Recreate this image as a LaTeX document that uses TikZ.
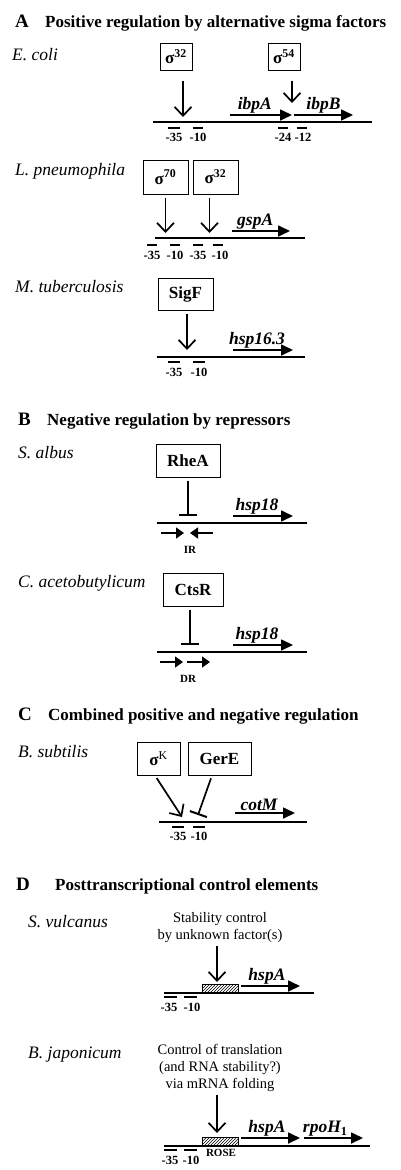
\documentclass[tikz,border=0pt]{standalone}
\usepackage{fontspec}
\setmainfont{Liberation Serif}
\usetikzlibrary{arrows.meta, patterns}

\begin{document}
\begin{tikzpicture}[x=1pt,y=-1pt,
    panel/.style={anchor=base west,inner sep=0pt,font=\bfseries\fontsize{19}{22}\selectfont},
    heading/.style={anchor=base west,inner sep=0pt,font=\bfseries\fontsize{17}{20}\selectfont},
    species/.style={anchor=base west,inner sep=0pt,font=\itshape\fontsize{17.5}{20}\selectfont},
    factor/.style={draw,line width=1pt,minimum height=33pt,inner sep=0pt,font=\bfseries\fontsize{17}{20}\selectfont},
    note/.style={align=center,inner sep=0pt,font=\fontsize{14.5}{17}\selectfont},
    dna/.style={line width=1.3pt},
    gene/.style={line width=1.7pt,-{Triangle[length=12pt,width=11pt]}},
    gname/.style={above,pos=0.4,inner sep=1pt,font=\bfseries\itshape\fontsize{17.5}{20}\selectfont},
    act/.style={line width=1.7pt,shorten <=3pt,-{Straight Barb[length=9pt,width=17pt,line width=1.7pt]}},
    rep/.style={line width=1.7pt,shorten <=3pt,-{Bar[width=18pt,line width=2pt]}},
    ir/.style={line width=1.4pt,-{Triangle[length=8pt,width=11pt]}},
    sitebar/.style={line width=1.3pt},
    site/.style={inner sep=0pt,font=\bfseries\fontsize{12.5}{14}\selectfont},
    small/.style={inner sep=0pt,font=\bfseries\fontsize{11}{13}\selectfont},
    rose/.style={draw,line width=1pt,pattern=north east lines},
]
\useasboundingbox (0,0) rectangle (400,1170);

% A: positive regulation
\node[panel] (pA) at (15,27) {A};
\node[heading] (hA) at (45,27) {Positive regulation by alternative sigma factors};

% E. coli
\node[species] (eco) at (12,60) {E. coli};
\node[factor,minimum width=32pt,minimum height=27pt] (eS32) at (176,56.5) {σ\textsuperscript{32}};
\node[factor,minimum width=32pt,minimum height=27pt] (eS54) at (284,56.5) {σ\textsuperscript{54}};
\coordinate (eL) at (153,122); \coordinate (eR) at (372,122);
\draw[dna] (eL) -- (eR);
\coordinate (eP1) at (183,117); \coordinate (eP2) at (292,103);
\draw[act,shorten <=10pt] ([xshift=7pt]eS32.south) -- (eP1);
\draw[act,shorten <=10pt] ([xshift=8pt]eS54.south) -- (eP2);
\coordinate (eA1) at (230,115); \coordinate (eA2) at (292,115);
\draw[gene] (eA1) -- node[gname] {ibpA} (eA2);
\coordinate (eB1) at (294,115); \coordinate (eB2) at (353,115);
\draw[gene] (eB1) -- node[gname,pos=0.5] {ibpB} (eB2);
\draw[sitebar] (168,128) -- (180,128);
\draw[sitebar] (193,128) -- (203,128);
\draw[sitebar] (278,128) -- (288,128);
\draw[sitebar] (297,128) -- (307,128);
\node[site] (e35) at (174,137) {-35};
\node[site] (e10) at (198,137) {-10};
\node[site] (e24) at (283,137) {-24};
\node[site] (e12) at (303,137) {-12};

% L. pneumophila
\node[species] (lpn) at (15,175) {L. pneumophila};
\node[factor,minimum width=45pt,minimum height=34pt] (lS70) at (165.5,177) {σ\textsuperscript{70}};
\node[factor,minimum width=45pt,minimum height=34pt] (lS32) at (215.5,177) {σ\textsuperscript{32}};
\coordinate (lL) at (155,238); \coordinate (lR) at (305,238);
\draw[dna] (lL) -- (lR);
\coordinate (lP1) at (165.5,233); \coordinate (lP2) at (209.5,233);
\draw[act] (lS70.south) -- (lP1);
\draw[act] ([xshift=-6pt]lS32.south) -- (lP2);
\coordinate (lA1) at (232,231); \coordinate (lA2) at (290,231);
\draw[gene] (lA1) -- node[gname] {gspA} (lA2);
\draw[sitebar] (147,245) -- (157,245);
\draw[sitebar] (170,245) -- (180,245);
\draw[sitebar] (193,245) -- (203,245);
\draw[sitebar] (213,245) -- (223,245);
\node[site] (l35a) at (152,255) {-35};
\node[site] (l10a) at (175,255) {-10};
\node[site] (l35b) at (198,255) {-35};
\node[site] (l10b) at (220,255) {-10};

% M. tuberculosis
\node[species] (mtb) at (15,292) {M. tuberculosis};
\node[factor,minimum width=55pt,minimum height=32pt] (mSigF) at (185.5,294) {SigF};
\coordinate (mL) at (157,357); \coordinate (mR) at (305,357);
\draw[dna] (mL) -- (mR);
\coordinate (mP) at (187,350);
\draw[act] ([xshift=1.5pt]mSigF.south) -- (mP);
\coordinate (mA1) at (233,350); \coordinate (mA2) at (293,350);
\draw[gene] (mA1) -- node[gname] {hsp16.3} (mA2);
\draw[sitebar] (168,362) -- (180,362);
\draw[sitebar] (193,362) -- (205,362);
\node[site] (m35) at (174,372) {-35};
\node[site] (m10) at (199,372) {-10};

% B: negative regulation
\node[panel] (pB) at (18,425) {B};
\node[heading] (hB) at (47,425) {Negative regulation by repressors};

% S. albus
\node[species] (sal) at (18,458) {S. albus};
\node[factor,minimum width=64pt] (sRheA) at (188,460.5) {RheA};
\coordinate (sL) at (157,523); \coordinate (sR) at (307,523);
\draw[dna] (sL) -- (sR);
\coordinate (sP) at (188,516);
\draw[rep] (sRheA.south) -- (sP);
\coordinate (sA1) at (233,516); \coordinate (sA2) at (293,516);
\draw[gene] (sA1) -- node[gname] {hsp18} (sA2);
\coordinate (sI1) at (161,533); \coordinate (sI2) at (184,533);
\coordinate (sI3) at (213,533); \coordinate (sI4) at (190,533);
\draw[ir] (sI1) -- (sI2);
\draw[ir] (sI3) -- (sI4);
\node[small] (sIR) at (190,550) {IR};

% C. acetobutylicum
\node[species] (cac) at (18,587) {C. acetobutylicum};
\node[factor,minimum width=60pt] (cCtsR) at (193,589.5) {CtsR};
\coordinate (cL) at (157,652); \coordinate (cR) at (307,652);
\draw[dna] (cL) -- (cR);
\coordinate (cP) at (190,645);
\draw[rep] ([xshift=-3pt]cCtsR.south) -- (cP);
\coordinate (cA1) at (233,645); \coordinate (cA2) at (293,645);
\draw[gene] (cA1) -- node[gname] {hsp18} (cA2);
\coordinate (cD1) at (160,662); \coordinate (cD2) at (183,662);
\coordinate (cD3) at (187,662); \coordinate (cD4) at (210,662);
\draw[ir] (cD1) -- (cD2);
\draw[ir] (cD3) -- (cD4);
\node[small] (cDR) at (188,679) {DR};

% C: combined regulation
\node[panel] (pC) at (18,720) {C};
\node[heading] (hC) at (48,720) {Combined positive and negative regulation};

% B. subtilis
\node[species] (bsu) at (18,757) {B. subtilis};
\node[factor,minimum width=43pt] (bSK) at (158.5,758.5) {σ\textsuperscript{\mdseries K}};
\node[factor,minimum width=63pt] (bGerE) at (219.5,758.5) {GerE};
\coordinate (bL) at (159,822); \coordinate (bR) at (307,822);
\draw[dna] (bL) -- (bR);
\coordinate (bP1) at (182,817); \coordinate (bP2) at (198,815);
\draw[act] ([xshift=-3.5pt]bSK.south) -- (bP1);
\draw[rep] ([xshift=-7.5pt]bGerE.south) -- (bP2);
\coordinate (bA1) at (235,813); \coordinate (bA2) at (295,813);
\draw[gene] (bA1) -- node[gname] {cotM} (bA2);
\draw[sitebar] (172,827) -- (184,827);
\draw[sitebar] (193,827) -- (205,827);
\node[site] (b35) at (178,836) {-35};
\node[site] (b10) at (199,836) {-10};

% D: posttranscriptional control
\node[panel] (pD) at (16,890) {D};
\node[heading] (hD) at (55,890) {Posttranscriptional control elements};

% S. vulcanus
\node[species] (svu) at (28,927) {S. vulcanus};
\node[note] (vNote) at (220,928) {Stability control\\by unknown factor(s)};
\coordinate (vL) at (164,993); \coordinate (vR) at (314,993);
\draw[dna] (vL) -- (vR);
\draw[rose] (202,984) rectangle (238,992);
\coordinate (vP) at (217,982);
\draw[act] ([xshift=-3pt]vNote.south) -- (vP);
\coordinate (vA1) at (241,986); \coordinate (vA2) at (300,986);
\draw[gene] (vA1) -- node[gname,pos=0.44] {hspA} (vA2);
\draw[sitebar] (164,997) -- (177,997);
\draw[sitebar] (184,997) -- (197,997);
\node[site] (v35) at (169,1007) {-35};
\node[site] (v10) at (192,1007) {-10};

% B. japonicum
\node[species] (bja) at (28,1058) {B. japonicum};
\node[note] (jNote) at (220,1068) {Control of translation\\(and RNA stability?)\\via mRNA folding};
\coordinate (jL) at (164,1146); \coordinate (jR) at (370,1146);
\draw[dna] (jL) -- (jR);
\draw[rose] (202,1137) rectangle (238,1145);
\coordinate (jP) at (217,1133);
\draw[act] ([xshift=-3pt]jNote.south) -- (jP);
\coordinate (jA1) at (241,1138); \coordinate (jA2) at (300,1138);
\draw[gene] (jA1) -- node[gname,pos=0.44] {hspA} (jA2);
\coordinate (jB1) at (304,1138); \coordinate (jB2) at (363,1138);
\draw[gene] (jB1) -- node[gname,pos=0.36] {rpoH\textsubscript{\upshape 1}} (jB2);
\draw[sitebar] (164,1150) -- (177,1150);
\draw[sitebar] (184,1150) -- (197,1150);
\node[site] (j35) at (170,1160) {-35};
\node[site] (j10) at (191,1160) {-10};
\node[small] (jROSE) at (221,1153) {ROSE};
\end{tikzpicture}
\end{document}
